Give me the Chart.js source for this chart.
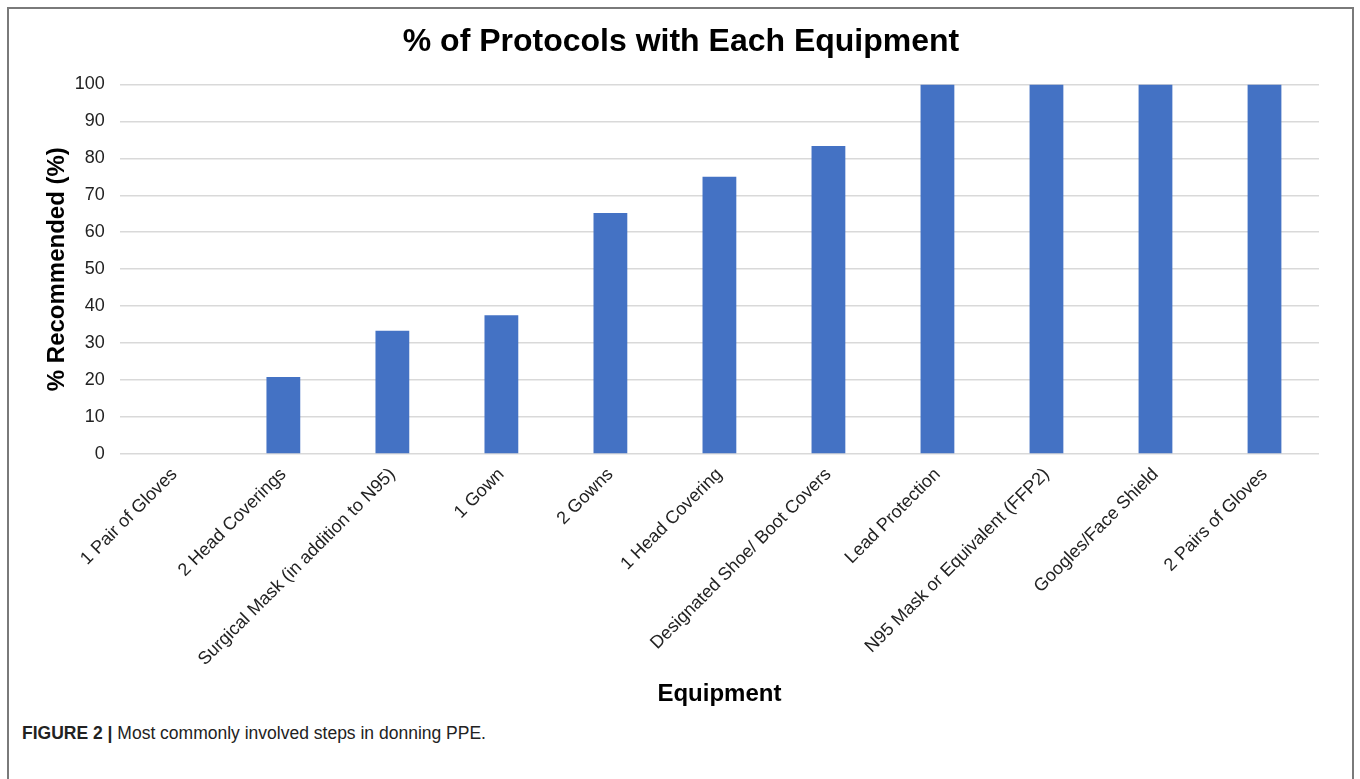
<!DOCTYPE html>
<html>
<head>
<meta charset="utf-8">
<script src="https://cdn.jsdelivr.net/npm/chart.js@4.4.0/dist/chart.umd.min.js"></script>
<style>
  html, body { margin: 0; padding: 0; background: #fff; }
  body { width: 1360px; height: 779px; overflow: hidden; position: relative; }
  #frame {
    position: absolute; left: 7px; top: 7px; width: 1347px; height: 790px;
    border: 2px solid #7a7a7a; border-bottom: none; box-sizing: border-box;
  }
  #wrap { position: absolute; left: 2px; top: 2px; width: 1344px; height: 698px; }
  #caption {
    position: absolute; left: 13px; top: 714px;
    font-family: "Liberation Sans Narrow", "Liberation Sans", Arial, sans-serif;
    font-size: 17.5px; color: #222; letter-spacing: 0px;
  }
  #caption b { font-weight: bold; }
</style>
</head>
<body>
<div id="frame">
  <div id="wrap"><canvas id="ppeChart"></canvas></div>
  <div id="caption"><b>FIGURE 2 |</b> Most commonly involved steps in donning PPE.</div>
</div>
<script>
// data
const equipment = ['1 Pair of Gloves', '2 Head Coverings', 'Surgical Mask (in addition to N95)', '1 Gown', '2 Gowns',
    '1 Head Covering', 'Designated Shoe/ Boot Covers', 'Lead Protection', 'N95 Mask or Equivalent (FFP2)',
    'Googles/Face Shield', '2 Pairs of Gloves'];
const pctRecommended = [0, 20.8, 33.3, 37.5, 65.2, 75, 83.3, 100, 100, 100, 100];
const yTicks = [0, 10, 20, 30, 40, 50, 60, 70, 80, 90, 100];

const font = 'Liberation Sans, Arial, sans-serif';
const ctx = document.getElementById('ppeChart');

new Chart(ctx, {
    type: 'bar',
    data: {
        labels: equipment,
        datasets: [{
            label: '% Recommended',
            data: pctRecommended,
            backgroundColor: '#4472C4',
            borderWidth: 0,
            categoryPercentage: 1,
            barPercentage: 0.31
        }]
    },
    options: {
        maintainAspectRatio: false,
        animation: false,
        layout: { padding: { left: 32, right: 36, top: 0, bottom: 0 } },
        plugins: {
            legend: { display: false },
            tooltip: { enabled: false },
            title: {
                display: true,
                text: '% of Protocols with Each Equipment',
                color: '#000',
                font: { family: font, size: 32, weight: 'bold' },
                padding: { top: 12, bottom: 23 }
            }
        },
        scales: {
            x: {
                grid: { display: false },
                border: { display: false },
                ticks: {
                    color: '#222',
                    font: { family: font, size: 18 },
                    minRotation: 45,
                    maxRotation: 45,
                    autoSkip: false,
                    padding: 2
                },
                title: {
                    display: true,
                    text: 'Equipment',
                    color: '#000',
                    font: { family: font, size: 24, weight: 'bold' },
                    padding: { top: 8, bottom: 0 }
                }
            },
            y: {
                min: 0,
                max: 100,
                afterBuildTicks: axis => { axis.ticks = yTicks.map(v => ({ value: v })); },
                grid: { color: '#d9d9d9', lineWidth: 1.5, drawTicks: false },
                border: { display: false },
                ticks: {
                    color: '#222',
                    font: { family: font, size: 18 },
                    padding: 15
                },
                title: {
                    display: true,
                    text: '% Recommended (%)',
                    color: '#000',
                    font: { family: font, size: 24, weight: 'bold' },
                    padding: { top: 0, bottom: -12 }
                }
            }
        }
    }
});
</script>
</body>
</html>
